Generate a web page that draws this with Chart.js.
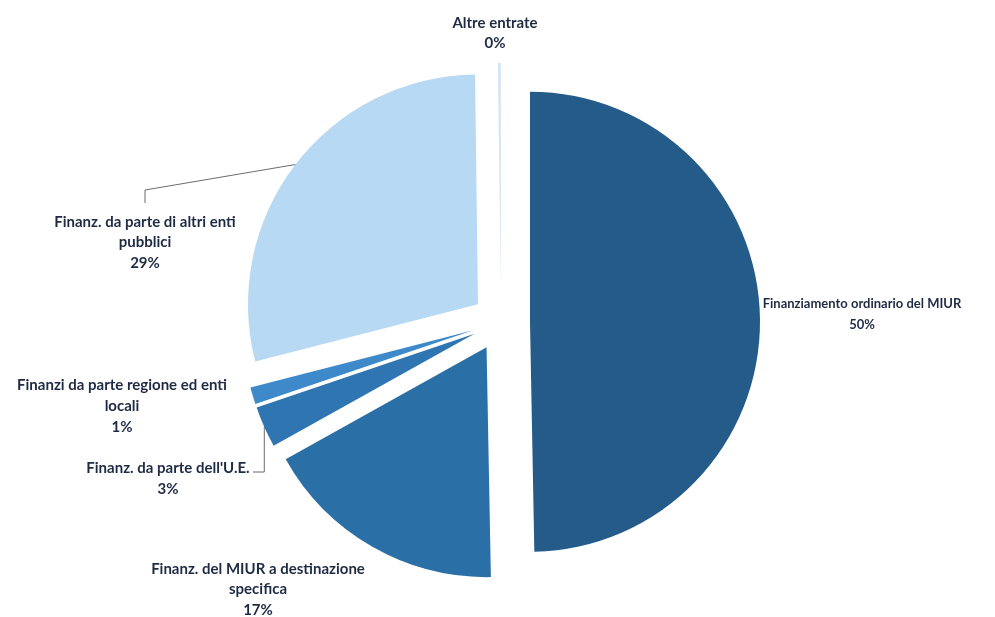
<!DOCTYPE html>
<html>
<head>
<meta charset="utf-8">
<script src="https://cdn.jsdelivr.net/npm/chart.js@4/dist/chart.umd.min.js"></script>
<style>
  html, body { margin: 0; padding: 0; background: #ffffff; }
  #wrap { width: 995px; height: 617px; position: relative; }
</style>
</head>
<body>
<div id="wrap"><canvas id="c" width="995" height="617"></canvas></div>
<script>
// ---- Data ----
const categories = [
  "Finanziamento ordinario del MIUR",
  "Finanz. del MIUR a destinazione specifica",
  "Finanz. da parte dell'U.E.",
  "Finanzi da parte regione ed enti locali",
  "Finanz. da parte di altri enti pubblici",
  "Altre entrate"
];
const values = [49.7, 17.2, 2.9, 1.2, 28.8, 0.2];
const percentLabels = ["50%", "17%", "3%", "1%", "29%", "0%"];
const labelLines = [
  ["Finanziamento ordinario del MIUR"],
  ["Finanz. del MIUR a destinazione", "specifica"],
  ["Finanz. da parte dell'U.E."],
  ["Finanzi da parte regione ed enti", "locali"],
  ["Finanz. da parte di altri enti", "pubblici"],
  ["Altre entrate"]
];

// ---- Styles / layout ----
const colors = ["#245b88", "#2b6fa7", "#2f75b2", "#3d89c9", "#b8d9f3", "#d3e4f2"];
const textColor = "#1f2b44";
const explode = 29;
const labelLayout = [
  { x: 862, y: 304, size: 13, lh: 21 },
  { x: 258, y: 569, size: 15, lh: 20.5 },
  { x: 168, y: 468, size: 15, lh: 21, leader: { type: "vh", endX: 253 } },
  { x: 122, y: 385, size: 15, lh: 21 },
  { x: 145, y: 222, size: 15, lh: 20.5, leader: { type: "elbow", elbowX: 145, elbowY: 190, endY: 203 } },
  { x: 495, y: 23, size: 15, lh: 20 }
];

function midPoint(arc) {
  const mid = (arc.startAngle + arc.endAngle) / 2;
  return { mid, dx: Math.cos(mid) * explode, dy: Math.sin(mid) * explode };
}

const explodePlugin = {
  id: "explode",
  beforeDatasetsDraw(chart) {
    const ctx = chart.ctx;
    const meta = chart.getDatasetMeta(0);
    meta.data.forEach(arc => {
      const m = midPoint(arc);
      ctx.save();
      ctx.translate(m.dx, m.dy);
      arc.draw(ctx, chart.chartArea);
      ctx.restore();
    });
    return false;
  },
  afterDraw(chart) {
    const ctx = chart.ctx;
    const meta = chart.getDatasetMeta(0);
    ctx.save();
    ctx.fillStyle = textColor;
    ctx.textAlign = "center";
    ctx.textBaseline = "middle";
    labelLayout.forEach((lay, i) => {
      ctx.font = "bold " + lay.size + "px Lato, 'Open Sans', sans-serif";
      const lines = labelLines[i].concat([percentLabels[i]]);
      lines.forEach((t, k) => ctx.fillText(t, lay.x, lay.y + k * lay.lh));
      if (lay.leader) {
        const arc = meta.data[i];
        const m = midPoint(arc);
        const ax = arc.x + m.dx + Math.cos(m.mid) * arc.outerRadius;
        const ay = arc.y + m.dy + Math.sin(m.mid) * arc.outerRadius;
        ctx.strokeStyle = "#6b6b6b";
        ctx.lineWidth = 1;
        ctx.beginPath();
        ctx.moveTo(ax, ay);
        if (lay.leader.type === "elbow") {
          ctx.lineTo(lay.leader.elbowX, lay.leader.elbowY);
          ctx.lineTo(lay.leader.elbowX, lay.leader.endY);
        } else {
          ctx.lineTo(ax, lay.y + 4);
          ctx.lineTo(lay.leader.endX, lay.y + 4);
        }
        ctx.stroke();
      }
    });
    ctx.restore();
  }
};

new Chart(document.getElementById("c"), {
  type: "pie",
  data: {
    labels: categories,
    datasets: [{
      data: values,
      backgroundColor: colors,
      borderWidth: 0,
      offset: 0
    }]
  },
  options: {
    responsive: false,
    animation: false,
    events: [],
    radius: 230,
    layout: { padding: { left: 10, right: 3, top: 40, bottom: 13 } },
    plugins: { legend: { display: false }, tooltip: { enabled: false } }
  },
  plugins: [explodePlugin]
});
</script>
</body>
</html>
